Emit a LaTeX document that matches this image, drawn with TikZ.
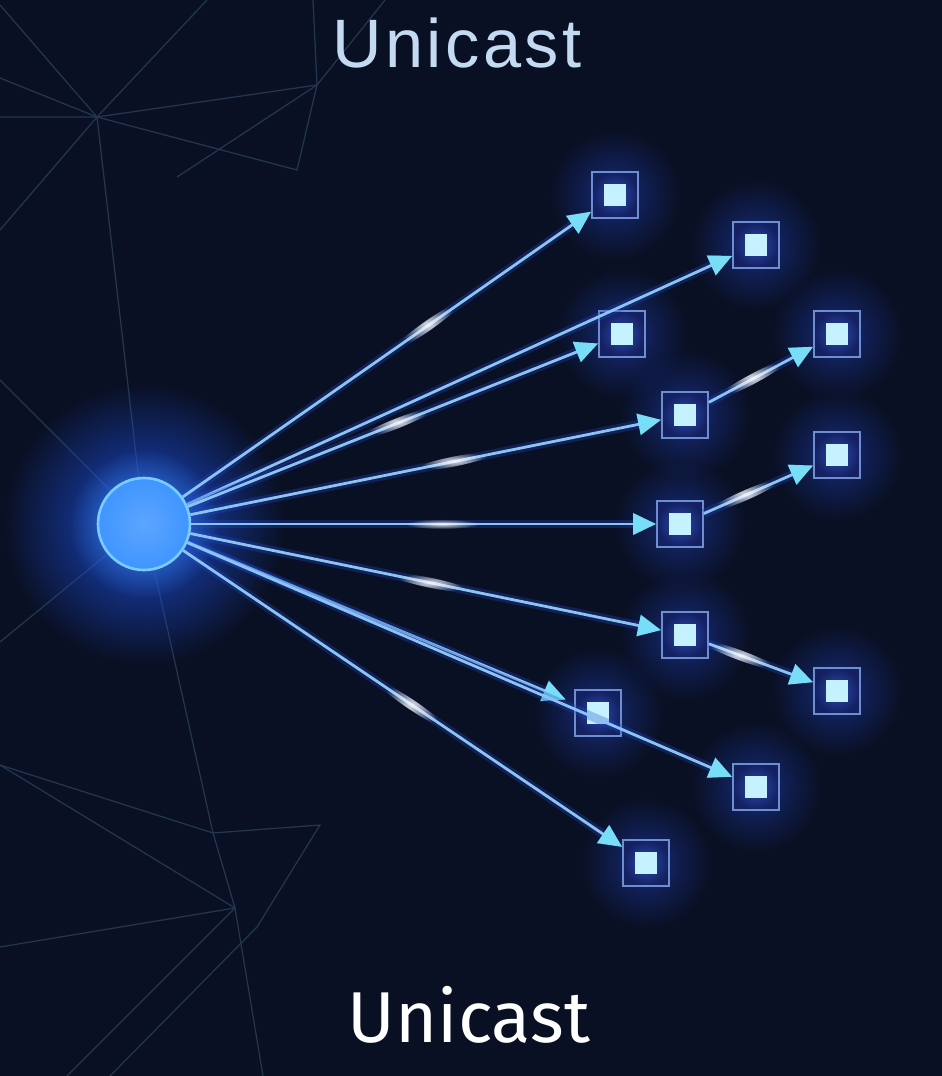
\documentclass[tikz,border=0pt]{standalone}
\usepackage{fontspec}
\newfontfamily\topfont[LetterSpace=5]{Liberation Sans}
\newfontfamily\botfont{Fira Sans}
\usetikzlibrary{arrows.meta,shapes.geometric,fadings}

\definecolor{bg}{HTML}{0A1024}
\definecolor{webline}{HTML}{22374F}
\definecolor{beamblue}{HTML}{8EC3F0}
\definecolor{tipcyan}{HTML}{78DDF6}
\definecolor{boxedge}{HTML}{6E8ED2}
\definecolor{boxfill}{HTML}{142060}
\definecolor{boxglow}{HTML}{2A4CB0}
\definecolor{boxcore}{HTML}{C6F2FF}
\definecolor{halo}{HTML}{1B4BD0}
\definecolor{boxhalo}{HTML}{1A3596}
\definecolor{ball}{HTML}{3F95FF}
\definecolor{ballrim}{HTML}{7ACCFF}
\definecolor{toptext}{HTML}{C4DAF2}

\pgfdeclarelayer{back}
\pgfsetlayers{back,main}
\tikzfading[name=soft, inner color=transparent!0, outer color=transparent!100]

\tikzstyle{web} = [draw=webline, line width=0.7pt]
\tikzstyle{beam} = [draw=beamblue, line width=1.6pt, -{Triangle[length=0.46cm,width=0.42cm,color=tipcyan]},
                    preaction={draw=halo, line width=5pt, opacity=0.3}]
\tikzstyle{glint} = [ellipse, minimum width=1.5cm, minimum height=0.2cm, inner sep=0pt, fill=white, opacity=0.85, path fading=soft, sloped]
\tikzstyle{host} = [rectangle, draw=boxedge, line width=1pt, minimum size=0.92cm, inner sep=0pt,
                    shading=radial, inner color=boxglow, outer color=boxfill,
                    path picture={
                      \fill[boxcore] (path picture bounding box.center) ++(-0.22cm,-0.22cm) rectangle ++(0.44cm,0.44cm);}]
\tikzstyle{source} = [circle, minimum size=1.84cm, draw=ballrim, line width=1.5pt,
                      shading=radial, inner color=ball!85!white, outer color=ball]

\begin{document}
\begin{tikzpicture}[x=0.02cm, y=-0.02cm]
    \useasboundingbox (0,0) rectangle (942,1076);

    % background web
    \begin{pgfonlayer}{back}
        \fill[bg] (0,0) rectangle (942,1076);
        \draw[web] (0,5) -- (97,117) -- (207,0);
        \draw[web] (0,78) -- (97,117) -- (317,85) -- (385,0);
        \draw[web] (0,117) -- (97,117) -- (297,170) -- (317,85) -- (313,0);
        \draw[web] (0,230) -- (97,117) -- (144,524);
        \draw[web] (177,177) -- (317,85);
        \draw[web] (0,380) -- (144,524) -- (0,642);
        \draw[web] (144,524) -- (213,833) -- (235,908) -- (263,1076);
        \draw[web] (0,765) -- (213,833) -- (320,825) -- (257,927) -- (110,1076);
        \draw[web] (0,765) -- (235,908) -- (67,1076);
        \draw[web] (0,947) -- (235,908);
    \end{pgfonlayer}

    \node (title) [text=toptext, font=\topfont\fontsize{39}{39}\selectfont, anchor=base] at (457,67) {Unicast};
    \node (caption) [text=white, font=\botfont\fontsize{41}{41}\selectfont, anchor=base] at (469,1042) {Unicast};

    \node (0) [source] at (144,524) {};
    \node (1) [host] at (615,195) {};
    \node (2) [host] at (756,245) {};
    \node (3) [host] at (622,334) {};
    \node (4) [host] at (837,334) {};
    \node (5) [host] at (685,415) {};
    \node (6) [host] at (837,455) {};
    \node (7) [host] at (680,524) {};
    \node (8) [host] at (685,635) {};
    \node (9) [host] at (837,691) {};
    \node (10) [host] at (598,713) {};
    \node (11) [host] at (756,787) {};
    \node (12) [host] at (646,863) {};

    % glow behind ball and boxes
    \begin{pgfonlayer}{back}
        \fill[halo, path fading=soft] (0) circle (2.8cm);
        \fill[ball, opacity=0.8, path fading=soft] (0) circle (1.5cm);
        \foreach \n in {1,...,12}
            \fill[boxhalo, opacity=0.75, path fading=soft] (\n) circle (1.3cm);
    \end{pgfonlayer}

    \draw [beam] (0) -- node[glint, pos=0.6] {} (1);
    \draw [beam] (0) -- (2);
    \draw [beam] (0) -- node[glint, pos=0.51] {} (3);
    \draw [beam] (0) -- node[glint, pos=0.56] {} (5);
    \draw [beam] (0) -- node[glint, pos=0.54] {} (7);
    \draw [beam] (0) -- node[glint, pos=0.51] {} (8);
    \draw [beam, shorten >=0.18cm] (0) -- (10);
    \draw [beam] (0) -- (11);
    \draw [beam] (0) -- node[glint, pos=0.52] {} (12);

    \draw [beam] (5) -- node[glint, pos=0.42] {} (4);
    \draw [beam] (7) -- node[glint, pos=0.38] {} (6);
    \draw [beam] (8) -- node[glint, pos=0.3] {} (9);
\end{tikzpicture}
\end{document}
